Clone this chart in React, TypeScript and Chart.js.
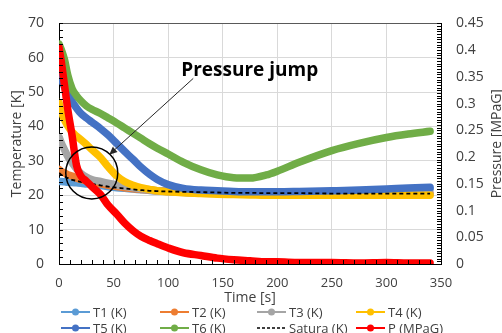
import React, { useEffect, useRef } from 'react';
import { Chart, registerables } from 'chart.js';

Chart.register(...registerables);

// ---- data ----
const times = [0, 2, 5, 8, 12, 16, 20, 25, 30, 38, 45, 53, 60, 68, 75, 83, 90, 100, 114, 130, 145, 160, 175, 190, 200, 220, 250, 275, 300, 320, 340];

const t1 = [24, 24, 23.9, 23.8, 23.7, 23.6, 23.5, 23.3, 23.1, 22.8, 22.5, 22.2, 22, 21.8, 21.6, 21.4, 21.3, 21.2, 21, 21, 20.9, 20.9, 20.9, 20.9, 20.9, 20.9, 21, 21.2, 21.4, 21.6, 21.8];
const t2 = [27.5, 27, 26.5, 26, 25.6, 25, 24.6, 24.2, 23.8, 23.3, 22.9, 22.5, 22.2, 21.9, 21.7, 21.5, 21.3, 21.1, 20.9, 20.8, 20.7, 20.7, 20.6, 20.6, 20.6, 20.6, 20.5, 20.5, 20.5, 20.5, 20.5];
const t3 = [37, 35.3, 33.3, 31.3, 29.4, 27.7, 26.4, 25.3, 24.6, 24, 23.5, 23, 22.6, 22.2, 21.9, 21.6, 21.3, 21, 20.8, 20.6, 20.5, 20.4, 20.4, 20.3, 20.3, 20.3, 20.3, 20.3, 20.3, 20.3, 20.3];
const t4 = [47, 44.5, 42, 40.2, 38.4, 37.2, 36.2, 34.8, 33.3, 31, 28.3, 25.6, 24, 22.9, 22.2, 21.7, 21.3, 21, 20.7, 20.5, 20.3, 20.2, 20.1, 20, 20, 20, 20, 20, 20, 20, 20];
const t5 = [56, 54, 51.5, 49.5, 47.3, 45.4, 43.8, 42.5, 41.3, 39.4, 37.5, 35, 32.8, 30.4, 28.2, 26.1, 24.6, 23.1, 22, 21.5, 21.3, 21.1, 21, 21, 21, 21.1, 21.3, 21.5, 21.8, 22.1, 22.3];
const t6 = [64, 62.5, 59.5, 55, 51, 49, 47.5, 46, 45, 43.8, 42.5, 41, 39.6, 38, 36.6, 35, 33.7, 32, 29.6, 27.4, 25.9, 25.1, 25, 25.9, 27, 29.6, 33, 35.1, 36.8, 37.8, 38.6];
const satura = [26.5, 26, 25.5, 25, 24.5, 24.2, 23.9, 23.6, 23.3, 22.9, 22.5, 22.2, 22, 21.7, 21.5, 21.3, 21.2, 21.1, 21, 20.9, 20.8, 20.7, 20.7, 20.6, 20.6, 20.6, 20.5, 20.5, 20.5, 20.5, 20.5];
const pressure = [0.405, 0.38, 0.335, 0.29, 0.24, 0.185, 0.165, 0.155, 0.145, 0.13, 0.11, 0.093, 0.077, 0.062, 0.052, 0.044, 0.038, 0.03, 0.021, 0.016, 0.011, 0.008, 0.006, 0.004, 0.004, 0.003, 0.003, 0.002, 0.003, 0.002, 0.002];

const seriesLabels = ['T1 (K)', 'T2 (K)', 'T3 (K)', 'T4 (K)', 'T5 (K)', 'T6 (K)', 'Satura (K)', 'P (MPaG)'];
const seriesColors = ['#5B9BD5', '#ED7D31', '#A5A5A5', '#FFC000', '#4472C4', '#70AD47', '#000000', '#FF0000'];

const xTickValues = [0, 50, 100, 150, 200, 250, 300, 350];
const yTickValues = [0, 10, 20, 30, 40, 50, 60, 70];
const pTickValues = [0, 0.05, 0.1, 0.15, 0.2, 0.25, 0.3, 0.35, 0.4, 0.45];
const pTickLabels = ['0', '0.05', '0.1', '0.15', '0.2', '0.25', '0.3', '0.35', '0.4', '0.45'];

const xTitle = 'Time [s]';
const yTitle = 'Temperature [K]';
const y1Title = 'Pressure [MPaG]';
const noteText = 'Pressure jump';
// annotation anchor points in data units
const noteTextPos = { x: 112, y: 56.3 };
const arrowFrom = { x: 123, y: 54 };
const arrowTo = { x: 46, y: 31.8 };
const circleCenter = { x: 30, y: 26.5 };

const FONT = "'Open Sans', 'Noto Sans', sans-serif";
const TEXT = '#404040';

const decorPlugin = {
  id: 'decor',
  afterDatasetsDraw(chart: any) {
    const { ctx } = chart;
    const x = chart.scales.x, y = chart.scales.y;
    ctx.save();
    ctx.strokeStyle = '#000';
    ctx.lineWidth = 1.5;
    ctx.beginPath();
    ctx.arc(x.getPixelForValue(circleCenter.x), y.getPixelForValue(circleCenter.y), 26, 0, Math.PI * 2);
    ctx.stroke();
    const ax0 = x.getPixelForValue(arrowFrom.x), ay0 = y.getPixelForValue(arrowFrom.y);
    const ax1 = x.getPixelForValue(arrowTo.x), ay1 = y.getPixelForValue(arrowTo.y);
    ctx.lineWidth = 1;
    ctx.strokeStyle = '#262626';
    ctx.beginPath();
    ctx.moveTo(ax0, ay0);
    ctx.lineTo(ax1, ay1);
    ctx.stroke();
    const ang = Math.atan2(ay1 - ay0, ax1 - ax0);
    const hl = 8, hw = 3.5;
    ctx.fillStyle = '#262626';
    ctx.beginPath();
    ctx.moveTo(ax1, ay1);
    ctx.lineTo(ax1 - hl * Math.cos(ang) + hw * Math.sin(ang), ay1 - hl * Math.sin(ang) - hw * Math.cos(ang));
    ctx.lineTo(ax1 - hl * Math.cos(ang) - hw * Math.sin(ang), ay1 - hl * Math.sin(ang) + hw * Math.cos(ang));
    ctx.closePath();
    ctx.fill();
    ctx.fillStyle = '#000';
    ctx.font = `bold 19px ${FONT}`;
    ctx.textAlign = 'left';
    ctx.textBaseline = 'middle';
    ctx.fillText(noteText, x.getPixelForValue(noteTextPos.x), y.getPixelForValue(noteTextPos.y));
    ctx.restore();
  },
  afterDraw(chart: any) {
    const { ctx, chartArea: a } = chart;
    const x = chart.scales.x, y = chart.scales.y, y1 = chart.scales.y1;
    ctx.save();
    ctx.strokeStyle = '#595959';
    ctx.lineWidth = 1;
    ctx.beginPath();
    ctx.moveTo(a.left, Math.round(a.top) + 0.5);
    ctx.lineTo(a.right, Math.round(a.top) + 0.5);
    ctx.stroke();
    ctx.strokeStyle = '#000';
    ctx.beginPath();
    for (let v = 0; v <= 350; v += 10) {
      const px = Math.round(x.getPixelForValue(v)) + 0.5;
      ctx.moveTo(px, a.bottom);
      ctx.lineTo(px, a.bottom - 4);
    }
    for (let v = 0; v <= 70; v += 2) {
      const py = Math.round(y.getPixelForValue(v)) + 0.5;
      ctx.moveTo(a.left, py);
      ctx.lineTo(a.left + 4, py);
    }
    for (let k = 0; k <= 90; k++) {
      const py = Math.round(y1.getPixelForValue(k * 0.005)) + 0.5;
      ctx.moveTo(a.right, py);
      ctx.lineTo(a.right - 4, py);
    }
    ctx.stroke();
    ctx.fillStyle = TEXT;
    ctx.font = `14px ${FONT}`;
    ctx.textAlign = 'center';
    ctx.textBaseline = 'alphabetic';
    const midY = (a.top + a.bottom) / 2;
    ctx.save();
    ctx.translate(21, midY);
    ctx.rotate(-Math.PI / 2);
    ctx.fillText(yTitle, 0, 0);
    ctx.restore();
    ctx.save();
    ctx.translate(501, midY);
    ctx.rotate(-Math.PI / 2);
    ctx.fillText(y1Title, 0, 0);
    ctx.restore();
    ctx.fillText(xTitle, (a.left + a.right) / 2, 302);
    const colX = [93, 192, 289, 388];
    const rowY = [317, 333];
    ctx.font = `13px ${FONT}`;
    ctx.textAlign = 'left';
    seriesLabels.forEach((lab, i) => {
      const tx = colX[i % 4];
      const by = rowY[Math.floor(i / 4)];
      const my = by - 5;
      const color = seriesColors[i];
      const isSat = lab.startsWith('Satura');
      ctx.strokeStyle = color;
      ctx.lineWidth = isSat ? 1.5 : 2;
      ctx.setLineDash(isSat ? [3, 2] : []);
      ctx.beginPath();
      ctx.moveTo(tx - 32, my);
      ctx.lineTo(tx - 3, my);
      ctx.stroke();
      ctx.setLineDash([]);
      if (!isSat) {
        ctx.fillStyle = color;
        ctx.beginPath();
        ctx.arc(tx - 17.5, my, 3.5, 0, Math.PI * 2);
        ctx.fill();
      }
      ctx.fillStyle = TEXT;
      ctx.fillText(lab, tx, by);
    });
    ctx.restore();
  },
};

export default function App() {
  const ref = useRef<HTMLCanvasElement | null>(null);
  useEffect(() => {
    document.body.style.margin = '0';
    const series = [t1, t2, t3, t4, t5, t6, satura, pressure];
    const datasets = series.map((vals, i) => {
      const isSat = i === 6;
      const isP = i === 7;
      return {
        label: seriesLabels[i],
        data: times.map((t, k) => ({ x: t, y: vals[k] })),
        borderColor: seriesColors[i],
        backgroundColor: seriesColors[i],
        borderWidth: isSat ? 1.8 : 7.5,
        borderDash: isSat ? [4, 3] : [],
        pointRadius: 0,
        cubicInterpolationMode: 'monotone' as const,
        borderCapStyle: isSat ? ('butt' as const) : ('round' as const),
        borderJoinStyle: 'round' as const,
        yAxisID: isP ? 'y1' : 'y',
        order: 7 - i,
        fill: false,
      };
    });
    const chart = new Chart(ref.current as HTMLCanvasElement, {
      type: 'line',
      data: { datasets },
      options: {
        responsive: false,
        animation: false,
        devicePixelRatio: 1,
        layout: { padding: { top: 18, left: 0, right: 0, bottom: 0 } },
        plugins: { legend: { display: false }, tooltip: { enabled: false } },
        scales: {
          x: {
            type: 'linear',
            min: 0,
            max: 350,
            afterFit: (s: any) => { s.height = 69; },
            afterBuildTicks: (s: any) => { s.ticks = xTickValues.map((v) => ({ value: v })); },
            grid: { color: '#d9d9d9', drawTicks: false },
            border: { color: '#000', width: 1 },
            ticks: { padding: 11, color: TEXT, font: { family: FONT, size: 13 } },
          },
          y: {
            type: 'linear',
            position: 'left',
            min: 0,
            max: 70,
            afterFit: (s: any) => { s.width = 59; },
            afterBuildTicks: (s: any) => { s.ticks = yTickValues.map((v) => ({ value: v })); },
            grid: { color: '#d9d9d9', drawTicks: false },
            border: { color: '#000', width: 1 },
            ticks: { padding: 15, color: TEXT, font: { family: FONT, size: 14 } },
          },
          y1: {
            type: 'linear',
            position: 'right',
            min: 0,
            max: 0.45,
            afterFit: (s: any) => { s.width = 61; },
            afterBuildTicks: (s: any) => { s.ticks = pTickValues.map((v) => ({ value: v })); },
            grid: { drawOnChartArea: false, drawTicks: false },
            border: { color: '#000', width: 1 },
            ticks: {
              padding: 15,
              color: TEXT,
              font: { family: FONT, size: 14 },
              callback: (_v: any, idx: number) => pTickLabels[idx],
            },
          },
        },
      },
      plugins: [decorPlugin],
    });
    return () => chart.destroy();
  }, []);
  return (
    <div style={{ width: 502, height: 333, background: '#fff' }}>
      <canvas ref={ref} width={502} height={333} />
    </div>
  );
}
